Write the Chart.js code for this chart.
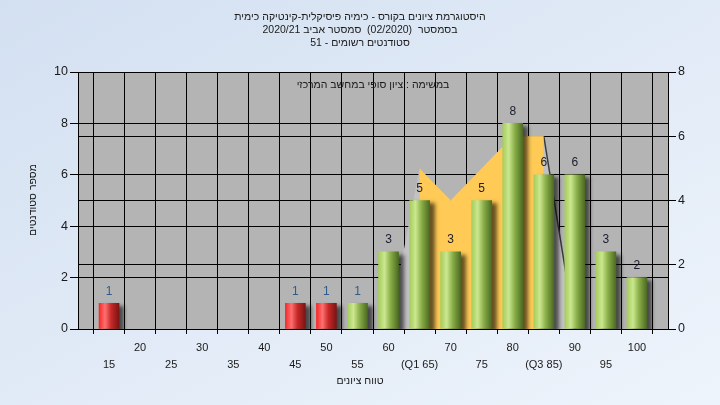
<!DOCTYPE html>
<html>
<head>
<meta charset="utf-8">
<script src="https://cdn.jsdelivr.net/npm/chart.js@4/dist/chart.umd.min.js"></script>
<style>
  html, body { margin: 0; padding: 0; }
  body { width: 720px; height: 405px; background: linear-gradient(to bottom right, #D3E0F1 0%, #E2EBF7 55%, #EEF4FB 100%); overflow: hidden; }
  #wrap { position: relative; width: 720px; height: 405px; }
</style>
</head>
<body>
<div id="wrap"><canvas id="c" width="720" height="405"></canvas></div>
<script>
// ---- data ----
const grades = [15, 20, 25, 30, 35, 40, 45, 50, 55, 60, 65, 70, 75, 80, 85, 90, 95, 100];
const counts = [1, 0, 0, 0, 0, 0, 1, 1, 1, 3, 5, 3, 5, 8, 6, 6, 3, 2];
const passMark = 55;
const curveGrades = [60, 65, 70, 75, 80, 85, 90];
const curveValues = [0, 5, 4, 5, 6, 6, 0];
const iqrGrades = [65, 70, 75, 80, 85];
const iqrValues = [5, 4, 5, 6, 6];
const specialTickLabels = { 65: '(Q1 65)', 85: '(Q3 85)' };
const titleLines = [
  'היסטוגרמת ציונים בקורס - כימיה פיסיקלית-קינטיקה כימית',
  'בסמסטר  (02/2020)  סמסטר אביב 2020/21',
  'סטודנטים רשומים - 51'
];
const noteText = 'במשימה : ציון סופי במחשב המרכזי';
const yTitle = 'מספר סטודנטים';
const xTitle = 'טווח ציונים';

const FONT = "'Liberation Sans', Arial, 'DejaVu Sans', sans-serif";

function barGradient(c) {
  const chart = c.chart;
  if (!chart.chartArea || c.dataIndex === undefined) return '#9BC24F';
  const x = chart.scales.x.getPixelForValue(grades[c.dataIndex]);
  const g = chart.ctx.createLinearGradient(x - 10, 0, x + 10, 0);
  if (grades[c.dataIndex] < passMark) {
    g.addColorStop(0, '#F42A2A');
    g.addColorStop(0.3, '#FF7070');
    g.addColorStop(0.6, '#C82828');
    g.addColorStop(1, '#7A1414');
  } else {
    g.addColorStop(0, '#A6CD5C');
    g.addColorStop(0.3, '#CBE790');
    g.addColorStop(0.6, '#8AAE48');
    g.addColorStop(1, '#4C6A22');
  }
  return g;
}

const bgPlugin = {
  id: 'bg',
  beforeDraw(chart) {
    const { ctx, chartArea: a } = chart;
    ctx.save();
    ctx.fillStyle = '#B4B4B4';
    ctx.fillRect(a.left, a.top, a.right - a.left, a.bottom - a.top);
    ctx.restore();
  }
};

const shadowPlugin = {
  id: 'shadow',
  beforeDatasetDraw(chart, args) {
    if (args.index !== 0) return;
    const ctx = chart.ctx;
    ctx.save();
    ctx.shadowColor = 'rgba(0,0,0,0.6)';
    ctx.shadowBlur = 4;
    ctx.shadowOffsetX = 5;
    ctx.shadowOffsetY = 3;
  },
  afterDatasetDraw(chart, args) {
    if (args.index !== 0) return;
    chart.ctx.restore();
  }
};

const textPlugin = {
  id: 'texts',
  afterDatasetsDraw(chart) {
    const ctx = chart.ctx;
    const xs = chart.scales.x, ys = chart.scales.y;
    ctx.save();
    ctx.font = '12px ' + FONT;
    ctx.textAlign = 'center';
    ctx.textBaseline = 'middle';
    counts.forEach((v, i) => {
      if (!v) return;
      ctx.fillStyle = v === 1 ? '#2F5C8A' : '#1C1C30';
      ctx.fillText(String(v), xs.getPixelForValue(grades[i]), ys.getPixelForValue(v) - 12);
    });
    ctx.restore();
  },
  afterDraw(chart) {
    const ctx = chart.ctx;
    ctx.save();
    ctx.direction = 'rtl';
    ctx.fillStyle = '#1a1a1a';
    ctx.textAlign = 'center';
    ctx.textBaseline = 'middle';
    ctx.font = '10.5px ' + FONT;
    const ty = [17, 30, 43];
    titleLines.forEach((t, i) => ctx.fillText(t, 360, ty[i]));
    ctx.fillText(noteText, 373, 85);
    ctx.fillText(xTitle, 360, 381);
    ctx.save();
    ctx.translate(33, 200);
    ctx.rotate(-Math.PI / 2);
    ctx.fillText(yTitle, 0, 0);
    ctx.restore();
    ctx.restore();
  }
};

new Chart(document.getElementById('c'), {
  data: {
    datasets: [
      {
        type: 'bar',
        data: grades.map((g, i) => ({ x: g, y: counts[i] > 0 ? counts[i] : null })),
        backgroundColor: barGradient,
        borderWidth: 0,
        barThickness: 20,
        yAxisID: 'y',
        order: 0
      },
      {
        type: 'line',
        data: iqrGrades.map((g, i) => ({ x: g, y: iqrValues[i] })),
        yAxisID: 'y2',
        fill: 'origin',
        backgroundColor: '#FFCA55',
        borderWidth: 0,
        pointRadius: 0,
        tension: 0,
        order: 1
      },
      {
        type: 'line',
        data: curveGrades.map((g, i) => ({ x: g, y: curveValues[i] })),
        yAxisID: 'y2',
        fill: 'origin',
        backgroundColor: '#C2C2C2',
        borderWidth: 1.5,
        borderColor: 'rgba(0,0,0,0)',
        segment: {
          borderColor: (s) => (s.p0DataIndex === curveGrades.length - 2 ? '#3A3A3A' : 'rgba(0,0,0,0)')
        },
        pointRadius: 0,
        tension: 0,
        order: 2
      }
    ]
  },
  options: {
    responsive: false,
    animation: false,
    events: [],
    layout: { padding: { top: 72, left: 0, right: 0, bottom: 0 } },
    plugins: { legend: { display: false }, title: { display: false }, tooltip: { enabled: false } },
    scales: {
      x: {
        type: 'linear',
        min: 10,
        max: 105,
        offset: false,
        afterFit(s) { s.height = 76; },
        grid: { color: '#000', lineWidth: 1, tickLength: 5, tickColor: '#000' },
        border: { display: true, color: '#000', width: 1 },
        ticks: {
          stepSize: 5,
          autoSkip: false,
          maxRotation: 0,
          padding: 5,
          color: '#1a1a1a',
          font: { family: FONT, size: 11, lineHeight: '17px' },
          callback(v) {
            if (v < grades[0] || v > grades[grades.length - 1]) return '';
            const lab = specialTickLabels[v] || String(v);
            return (v / 5) % 2 === 1 ? ['', lab] : lab;
          }
        }
      },
      y: {
        position: 'left',
        min: 0,
        max: 10,
        afterFit(s) { s.width = 78; },
        grid: { color: '#000', lineWidth: 1, tickLength: 8, tickColor: '#000' },
        border: { display: true, color: '#000', width: 1 },
        ticks: { stepSize: 2, padding: 2, color: '#1a1a1a', font: { family: FONT, size: 12.5 } }
      },
      y2: {
        position: 'right',
        min: 0,
        max: 8,
        afterFit(s) { s.width = 52; },
        grid: { color: '#000', lineWidth: 1, tickLength: 8, tickColor: '#000' },
        border: { display: true, color: '#000', width: 1 },
        ticks: { stepSize: 2, padding: 2, color: '#1a1a1a', font: { family: FONT, size: 12.5 } }
      }
    }
  },
  plugins: [bgPlugin, shadowPlugin, textPlugin]
});
</script>
</body>
</html>
